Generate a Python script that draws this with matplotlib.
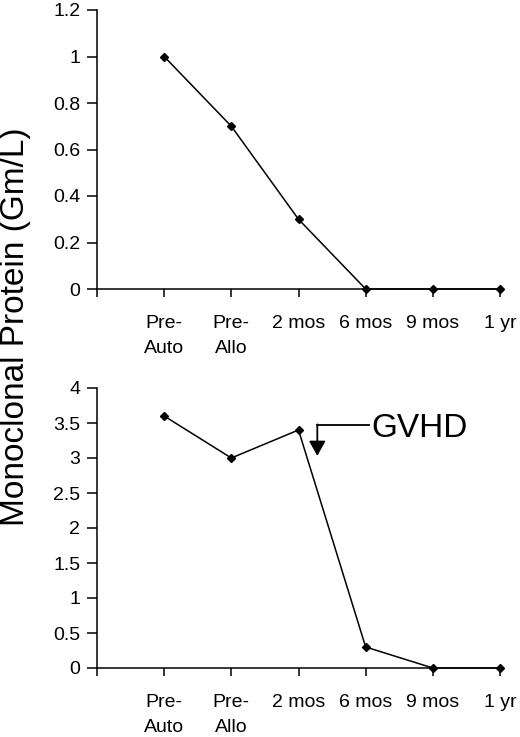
import matplotlib
matplotlib.use("Agg")
import matplotlib.pyplot as plt

plt.rcParams['font.family'] = ['Liberation Sans', 'DejaVu Sans']

categories = ["Pre-\nAuto", "Pre-\nAllo", "2 mos", "6 mos", "9 mos", "1 yr"]
top_values = [1.0, 0.7, 0.3, 0.0, 0.0, 0.0]
bottom_values = [3.6, 3.0, 3.4, 0.3, 0.0, 0.0]
top_yticks = [0, 0.2, 0.4, 0.6, 0.8, 1.0, 1.2]
top_yticklabels = ["0", "0.2", "0.4", "0.6", "0.8", "1", "1.2"]
bottom_yticks = [0, 0.5, 1.0, 1.5, 2.0, 2.5, 3.0, 3.5, 4.0]
bottom_yticklabels = ["0", "0.5", "1", "1.5", "2", "2.5", "3", "3.5", "4"]

fig = plt.figure(figsize=(5.2, 7.37), dpi=100)
W, H = 520, 737

def make_ax(top_px, bottom_px):
    return fig.add_axes([97 / W, 1 - bottom_px / H, (500 - 97) / W, (bottom_px - top_px) / H])

ax1 = make_ax(10, 289)
ax2 = make_ax(388, 668)

xpos = list(range(1, len(categories) + 1))

def style(ax, values, yticks, yticklabels, ymax):
    ax.plot(xpos, values, color='black', lw=1.1, marker='D', markersize=4.5,
            markerfacecolor='black', markeredgecolor='black', clip_on=False, zorder=3)
    ax.set_xlim(0, len(categories))
    ax.set_ylim(0, ymax)
    ax.set_xticks(range(0, len(categories) + 1))
    ax.set_xticklabels([""] + categories, fontsize=14, linespacing=1.55)
    ax.set_yticks(yticks)
    ax.set_yticklabels(yticklabels, fontsize=14)
    for s in ['top', 'right']:
        ax.spines[s].set_visible(False)
    for s in ['left', 'bottom']:
        ax.spines[s].set_linewidth(1.1)
    ax.tick_params(axis='x', direction='out', length=6, width=1.1, pad=13)
    ax.tick_params(axis='y', direction='out', length=7, width=1.1, pad=5)
    for lbl in ax.get_xticklabels():
        lbl.set_verticalalignment('top')

style(ax1, top_values, top_yticks, top_yticklabels, 1.2)
style(ax2, bottom_values, bottom_yticks, bottom_yticklabels, 4.0)

# GVHD annotation
ax2.plot([3.28, 4.05], [3.47, 3.47], color='black', lw=1.3, clip_on=False)
ax2.annotate("", xy=(3.28, 3.03), xytext=(3.28, 3.48),
             arrowprops=dict(arrowstyle='-|>,head_length=0.9,head_width=0.5',
                             color='black', lw=1.3, shrinkA=0, shrinkB=0))
ax2.text(4.08, 3.42, "GVHD", fontsize=24, va='center', ha='left')

fig.text(16 / W, 1 - 327 / H, "Monoclonal Protein (Gm/L)", rotation=90,
         fontsize=24, va='center', ha='center')

fig.savefig("out.png", dpi=100)
